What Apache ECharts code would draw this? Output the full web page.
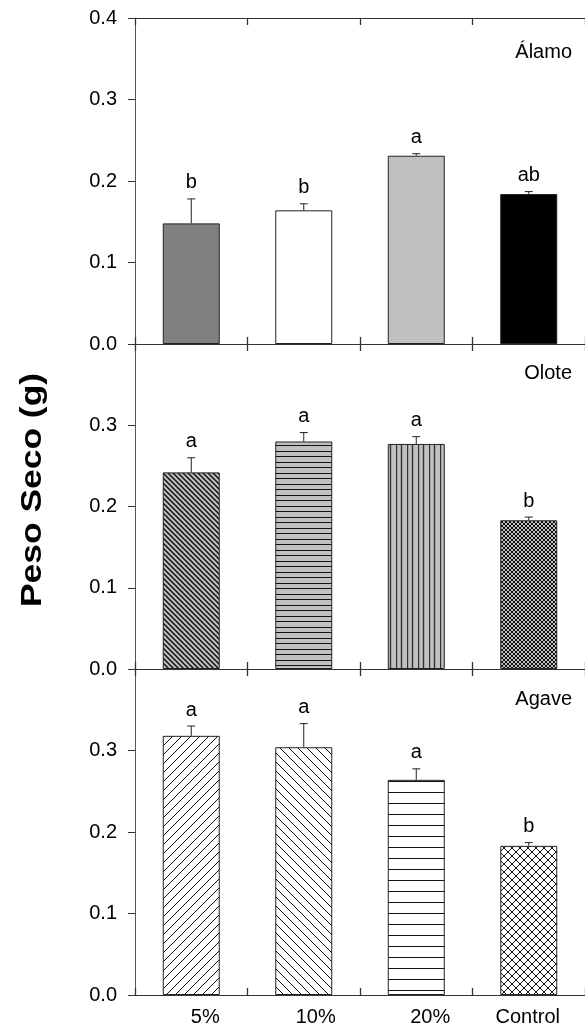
<!DOCTYPE html>
<html>
<head>
<meta charset="utf-8">
<script src="https://cdn.jsdelivr.net/npm/echarts@6/dist/echarts.min.js"></script>
<style>
  html, body { margin: 0; padding: 0; background: #fff; }
  #chart { width: 585px; height: 1032px; }
</style>
</head>
<body>
<div id="chart"></div>
<script>
// datos
const categories = ['5%', '10%', '20%', 'Control'];
const panelNames = ['Álamo', 'Olote', 'Agave'];

const alamoMean = [0.148, 0.164, 0.231, 0.184];
const alamoErr = [0.030, 0.008, 0.0025, 0.003];
const alamoLetters = ['b', 'b', 'a', 'ab'];

const oloteMean = [0.242, 0.280, 0.277, 0.183];
const oloteErr = [0.018, 0.011, 0.009, 0.004];
const oloteLetters = ['a', 'a', 'a', 'b'];

const agaveMean = [0.318, 0.304, 0.264, 0.183];
const agaveErr = [0.012, 0.029, 0.0135, 0.004];
const agaveLetters = ['a', 'a', 'a', 'b'];

const yMin = 0, yMax = 0.4, yStep = 0.1;

const FONT = 'Liberation Sans, Arial, sans-serif';

// rellenos con tramas
function makePattern(bg, size, draw, lw, color) {
    const c = document.createElement('canvas');
    c.width = size; c.height = size;
    const ctx = c.getContext('2d');
    ctx.fillStyle = bg;
    ctx.fillRect(0, 0, size, size);
    ctx.strokeStyle = color || '#111';
    ctx.lineWidth = lw || 1;
    draw(ctx, size);
    return { image: c, repeat: 'repeat' };
}
function back(ctx, s) {   // "\"
    ctx.beginPath();
    ctx.moveTo(-1, -1); ctx.lineTo(s + 1, s + 1);
    ctx.moveTo(-1, s - 1); ctx.lineTo(1, s + 1);
    ctx.moveTo(s - 1, -1); ctx.lineTo(s + 1, 1);
    ctx.stroke();
}
function fwd(ctx, s) {    // "/"
    ctx.beginPath();
    ctx.moveTo(-1, s + 1); ctx.lineTo(s + 1, -1);
    ctx.moveTo(-1, 1); ctx.lineTo(1, -1);
    ctx.moveTo(s - 1, s + 1); ctx.lineTo(s + 1, s - 1);
    ctx.stroke();
}
function horiz2(ctx, s) {
    ctx.beginPath();
    ctx.moveTo(0, 0.5); ctx.lineTo(s, 0.5);
    ctx.moveTo(0, 5.5); ctx.lineTo(s, 5.5);
    ctx.stroke();
}
function vert2(ctx, s) {
    ctx.beginPath();
    ctx.moveTo(0.5, 0); ctx.lineTo(0.5, s);
    ctx.moveTo(5.5, 0); ctx.lineTo(5.5, s);
    ctx.stroke();
}
function horiz(ctx, s) {
    ctx.beginPath();
    ctx.moveTo(0, 0.5); ctx.lineTo(s, 0.5);
    ctx.stroke();
}
function cross(ctx, s) { back(ctx, s); fwd(ctx, s); }

const grayBg = '#c0c0c0';
const fills = [
    ['#808080', '#ffffff', '#c0c0c0', '#000000'],
    [
        makePattern(grayBg, 5, back, 1.5),
        makePattern(grayBg, 11, horiz2, 1.2),
        makePattern(grayBg, 11, vert2, 1.4, '#333'),
        makePattern(grayBg, 4, cross, 1)
    ],
    [
        makePattern('#fff', 9, fwd, 1),
        makePattern('#fff', 9, back, 1),
        makePattern('#fff', 11, horiz, 1),
        makePattern('#fff', 8, cross, 1)
    ]
];

const means = [alamoMean, oloteMean, agaveMean];
const errs = [alamoErr, oloteErr, agaveErr];
const letters = [alamoLetters, oloteLetters, agaveLetters];

const gridTops = [18, 344, 669];
const gridHeights = [326, 325, 326];
const axisColor = '#333';

const labelShift = [28, 24, 28, -2];
const richX = {};
labelShift.forEach((p, i) => {
    richX['s' + i] = {
        fontSize: 20, fontFamily: FONT, color: '#000',
        padding: p >= 0 ? [0, 0, 0, p] : [0, -p, 0, 0]
    };
});

const catTick = { show: true, inside: true, length: 7, interval: 0, lineStyle: { color: axisColor, width: 1.3 } };

const grids = [], xAxes = [], yAxes = [], series = [];
for (let g = 0; g < 3; g++) {
    grids.push({ left: 135, width: 452, top: gridTops[g], height: gridHeights[g] });
    xAxes.push({
        type: 'category', gridIndex: g, position: 'bottom', data: categories,
        axisLine: { show: true, lineStyle: { color: axisColor, width: 1 } },
        axisTick: catTick,
        axisLabel: g === 2 ? {
            margin: 12,
            formatter: (v, idx) => '{s' + idx + '|' + v + '}',
            rich: richX
        } : { show: false }
    });
    xAxes.push({
        type: 'category', gridIndex: g, position: 'top', data: categories,
        axisLine: { show: true, lineStyle: { color: axisColor, width: 1 } },
        axisTick: catTick,
        axisLabel: { show: false }
    });
    yAxes.push({
        type: 'value', gridIndex: g, min: yMin, max: yMax, interval: yStep,
        axisLine: { show: true, lineStyle: { color: '#555', width: 1 } },
        axisTick: { show: true, inside: false, length: 7, lineStyle: { color: axisColor } },
        splitLine: { show: false },
        axisLabel: {
            margin: 18, fontSize: 20, fontFamily: FONT, color: '#000',
            showMaxLabel: g === 0,
            formatter: v => v.toFixed(1)
        }
    });

    series.push({
        type: 'bar', xAxisIndex: 2 * g, yAxisIndex: g, barWidth: 57,
        data: means[g].map((m, i) => ({
            value: m,
            itemStyle: { color: fills[g][i], borderColor: '#222', borderWidth: 1 }
        })),
        silent: true
    });

    const lets = letters[g];
    series.push({
        type: 'custom', xAxisIndex: 2 * g, yAxisIndex: g, z: 5,
        data: means[g].map((m, i) => [i, m, errs[g][i]]),
        renderItem: function (params, api) {
            const i = api.value(0), m = api.value(1), e = api.value(2);
            const p0 = api.coord([i, m]);
            const p1 = api.coord([i, m + e]);
            const st = { stroke: '#222', lineWidth: 1 };
            return {
                type: 'group',
                children: [
                    { type: 'line', shape: { x1: p0[0], y1: p0[1], x2: p1[0], y2: p1[1] }, style: st },
                    { type: 'line', shape: { x1: p1[0] - 4, y1: p1[1], x2: p1[0] + 4, y2: p1[1] }, style: st },
                    {
                        type: 'text', x: p1[0], y: p1[1] - 6,
                        style: {
                            text: lets[params.dataIndex], fill: '#000',
                            font: '20px ' + FONT, align: 'center', verticalAlign: 'bottom'
                        }
                    }
                ]
            };
        }
    });
}

const panelLabelY = [53, 374, 700];
const graphics = panelNames.map((n, g) => ({
    type: 'text', right: 13, top: panelLabelY[g] - 11,
    style: { text: n, fill: '#000', font: '20px ' + FONT }
}));
graphics.push({
    type: 'text', x: 33, y: 490, rotation: Math.PI / 2, scaleX: 1.18,
    style: {
        text: 'Peso Seco (g)', fill: '#000', font: 'bold 30px ' + FONT,
        align: 'center', verticalAlign: 'middle'
    }
});

const chart = echarts.init(document.getElementById('chart'));
chart.setOption({
    animation: false,
    backgroundColor: '#fff',
    grid: grids,
    xAxis: xAxes,
    yAxis: yAxes,
    series: series,
    graphic: graphics
});
</script>
</body>
</html>
